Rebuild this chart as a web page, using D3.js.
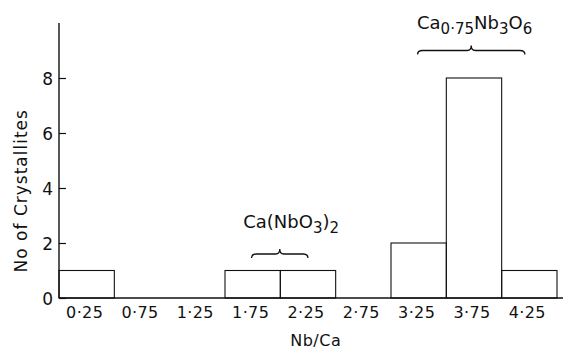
<!DOCTYPE html>
<html>
<head>
<meta charset="utf-8">
<script src="https://cdn.jsdelivr.net/npm/d3@7"></script>
<style>
  body { margin: 0; background: #fff; }
  text { font-family: "DejaVu Sans", sans-serif; fill: #111; }
</style>
</head>
<body>
<div id="chart"></div>
<script>
// bin centres (Nb/Ca) and counts
const binCentres = [0.25, 0.75, 1.25, 1.75, 2.25, 2.75, 3.25, 3.75, 4.25];
const counts     = [1, 0, 0, 1, 1, 0, 2, 8, 1];
const tickLabels = ["0·25", "0·75", "1·25", "1·75", "2·25", "2·75", "3·25", "3·75", "4·25"];
const yTicks = [0, 2, 4, 6, 8];
// phase annotations: brace span (x0, x1), brace height, label start / height
const phaseNames = ["Ca(NbO3)2", "Ca0.75Nb3O6"];
const braceFrom  = [1.74, 3.24];
const braceTo    = [2.25, 4.21];
const braceY     = [1.6, 9.0];
const labelX     = [1.665, 3.235];
const labelY     = [2.55, 9.8];

const binWidth = 0.5;
const margin = { top: 23, right: 1, bottom: 55, left: 59 };
const width = 564 - margin.left - margin.right;
const height = 353 - margin.top - margin.bottom;

const svg = d3.select("#chart")
  .append("svg")
  .attr("width", 564)
  .attr("height", 353)
  .append("g")
  .attr("transform", `translate(${margin.left},${margin.top})`);

const x = d3.scaleLinear().domain([0, 4.5]).range([0, 498]);
const y = d3.scaleLinear().domain([0, 10]).range([height, 0]);

// bars
svg.selectAll(".bar")
  .data(binCentres.map((c, i) => ({ c, n: counts[i] })).filter(d => d.n > 0))
  .join("rect")
  .attr("x", d => x(d.c - binWidth / 2))
  .attr("y", d => y(d.n))
  .attr("width", d => x(d.c + binWidth / 2) - x(d.c - binWidth / 2))
  .attr("height", d => y(0) - y(d.n))
  .attr("fill", "none")
  .attr("stroke", "#111")
  .attr("stroke-width", 1.1);

// axes
svg.append("line")
  .attr("x1", 0).attr("x2", width)
  .attr("y1", height).attr("y2", height)
  .attr("stroke", "#111").attr("stroke-width", 1.7);
svg.append("line")
  .attr("x1", 0).attr("x2", 0)
  .attr("y1", 0).attr("y2", height)
  .attr("stroke", "#111").attr("stroke-width", 1.4);

const yAxis = svg.append("g")
  .call(d3.axisRight(y).tickValues(yTicks).tickSize(7));
yAxis.select(".domain").remove();
yAxis.selectAll("line").attr("stroke", "#111").attr("stroke-width", 1.2);
yAxis.selectAll("text")
  .attr("text-anchor", "end")
  .attr("x", -6)
  .attr("dy", "0.36em")
  .style("font-size", "17px")
  .style("font-family", "DejaVu Sans, sans-serif");

// x tick labels at bin centres
svg.selectAll(".xlab")
  .data(binCentres)
  .join("text")
  .attr("x", d => x(d) - 2)
  .attr("y", height + 20)
  .attr("text-anchor", "middle")
  .style("font-size", "16px")
  .style("letter-spacing", "0.4px")
  .text((d, i) => tickLabels[i]);

svg.append("text")
  .attr("x", x(2.32))
  .attr("y", height + 48)
  .attr("text-anchor", "middle")
  .style("font-size", "16px")
  .style("letter-spacing", "0.5px")
  .text("Nb/Ca");

svg.append("text")
  .attr("transform", "rotate(-90)")
  .attr("x", -(y(3.9)))
  .attr("y", -margin.left + 27)
  .attr("text-anchor", "middle")
  .style("font-size", "17px")
  .style("letter-spacing", "1px")
  .text("No of  Crystallites");

// curly brace opening downward, peak pointing up
function brace(x0, x1, yy) {
  const a = x(x0), b = x(x1), m = (a + b) / 2, v = y(yy);
  const p = d3.path();
  p.moveTo(a, v + 4);
  p.quadraticCurveTo(a, v, a + 5, v);
  p.lineTo(m - 4, v);
  p.quadraticCurveTo(m, v, m, v - 5);
  p.quadraticCurveTo(m, v, m + 4, v);
  p.lineTo(b - 5, v);
  p.quadraticCurveTo(b, v, b, v + 4);
  return p.toString();
}

phaseNames.forEach((name, i) => {
  svg.append("path")
    .attr("d", brace(braceFrom[i], braceTo[i], braceY[i]))
    .attr("fill", "none")
    .attr("stroke", "#111")
    .attr("stroke-width", 1.3);

  const t = svg.append("text")
    .attr("x", x(labelX[i]))
    .attr("y", y(labelY[i]))
    .attr("text-anchor", "start")
    .style("font-size", "18px");
  // split chemical formula into base text and subscripts
  const parts = name.match(/[A-Za-z()]+|[0-9.]+/g);
  parts.forEach((s, k) => {
    const isNum = /^[0-9.]+$/.test(s);
    t.append("tspan")
      .attr("dy", isNum ? 5 : (k ? -5 : 0))
      .style("font-size", isNum ? "15px" : "18px")
      .text(isNum ? s.replace(".", "·") : s);
  });
});
</script>
</body>
</html>
